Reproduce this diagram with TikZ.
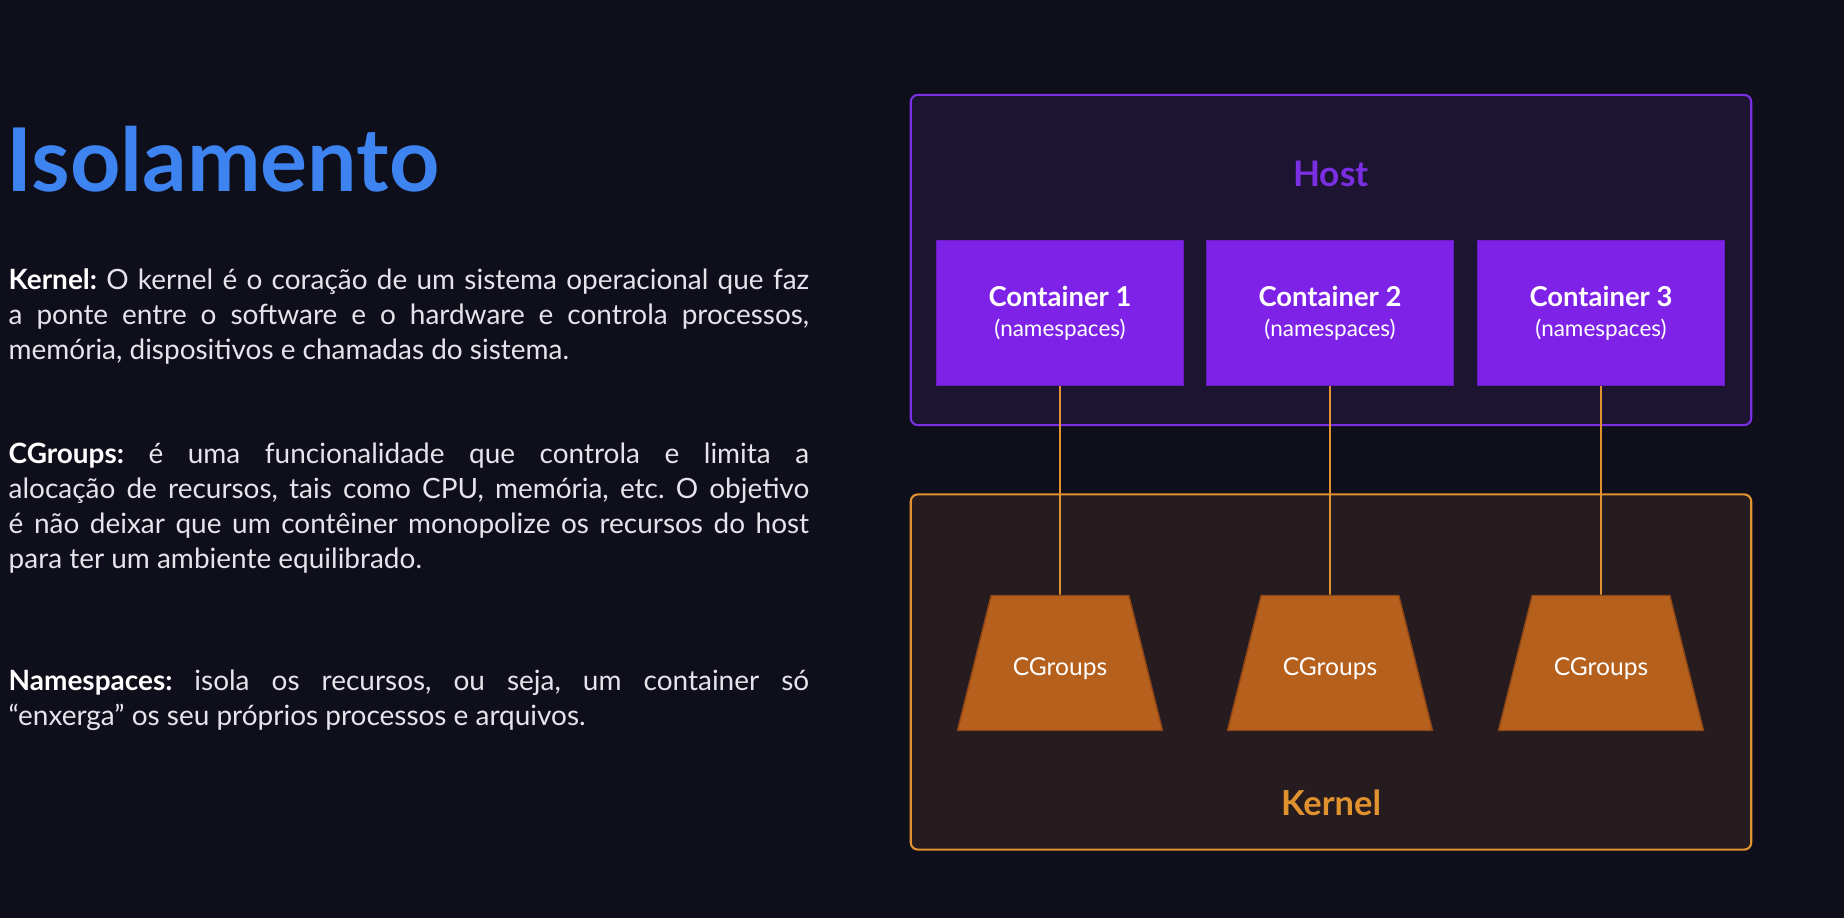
\documentclass[tikz,border=0pt]{standalone}
\usepackage{fontspec}
\setmainfont{Lato}
\usetikzlibrary{shapes.geometric}
\frenchspacing
\definecolor{bgnavy}{HTML}{0F0E1B}
\definecolor{titleblue}{HTML}{3D84F0}
\definecolor{bodygrey}{HTML}{E4E4EA}
\definecolor{hostfill}{HTML}{1D1432}
\definecolor{hostline}{HTML}{7B2FE3}
\definecolor{boxpurple}{HTML}{7D22E6}
\definecolor{kernfill}{HTML}{261B1E}
\definecolor{kernline}{HTML}{E0922E}
\definecolor{cgfill}{HTML}{B6601D}
\definecolor{cgline}{HTML}{8C4616}
\tikzset{
  para/.style={anchor=north west, inner sep=0pt, text width=8cm, align=justify,
    text=bodygrey, font=\fontsize{7.95}{10}\selectfont},
  frame/.style={rounded corners=2pt, line width=0.6pt, minimum width=8.4cm},
  cont/.style={fill=boxpurple, draw=boxpurple!85!black, line width=0.4pt,
    minimum width=2.47cm, minimum height=1.45cm, align=center, text=white,
    font=\fontsize{7.8}{8.4}\selectfont},
  cgroup/.style={trapezium, trapezium angle=76, trapezium stretches body,
    fill=cgfill, draw=cgline, line width=0.4pt, minimum width=2.05cm,
    inner ysep=0.55cm, text height=0.25cm, text depth=0cm, text=white,
    font=\fontsize{7}{8}\selectfont},
  link/.style={draw=kernline, line width=0.45pt}
}
\newcommand{\contlabel}[1]{{\bfseries Container #1}\\{\fontsize{6.4}{8.4}\selectfont(namespaces)}}
\begin{document}
\begin{tikzpicture}[x=0.01cm,y=-0.01cm]
\fill[bgnavy] (0,0) rectangle (1844,918);
\useasboundingbox (0,0) rectangle (1844,918);
\node (title) at (-6,192) [anchor=base west, text=titleblue, font=\fontsize{25}{29}\selectfont\bfseries]{Isolamento};
\node (pkern) at (8,268) [para]{\textbf{\color{white}Kernel:} O kernel é o coração de um sistema operacional que faz\linebreak a ponte entre o software e o hardware e controla processos,\linebreak memória, dispositivos e chamadas do sistema.};
\node (pcg) at (8,442) [para]{\textbf{\color{white}CGroups:} é uma funcionalidade que controla e limita a\linebreak alocação de recursos, tais como CPU, memória, etc. O objetivo\linebreak é não deixar que um contêiner monopolize os recursos do host\linebreak para ter um ambiente equilibrado.};
\node (pns) at (8,669) [para]{\textbf{\color{white}Namespaces:} isola os recursos, ou seja, um container só\linebreak “enxerga” os seu próprios processos e arquivos.};
\node (host) at (1331,260) [frame, draw=hostline, fill=hostfill, minimum height=3.3cm]{};
\node (kernel) at (1331,672) [frame, draw=kernline, fill=kernfill, minimum height=3.55cm]{};
\node (hostlbl) at (1331,174) [text=hostline, font=\fontsize{10}{12}\selectfont\bfseries]{Host};
\node (kernlbl) at (1331,803) [text=kernline, font=\fontsize{9.8}{12}\selectfont\bfseries]{Kernel};
\node (c1) at (1060,313) [cont]{\contlabel{1}};
\node (c2) at (1330,313) [cont]{\contlabel{2}};
\node (c3) at (1601,313) [cont]{\contlabel{3}};
\node (g1) at (1060,663) [cgroup]{CGroups};
\node (g2) at (1330,663) [cgroup]{CGroups};
\node (g3) at (1601,663) [cgroup]{CGroups};
\draw[link] (c1.south) -- (g1.north);
\draw[link] (c2.south) -- (g2.north);
\draw[link] (c3.south) -- (g3.north);
\end{tikzpicture}
\end{document}
